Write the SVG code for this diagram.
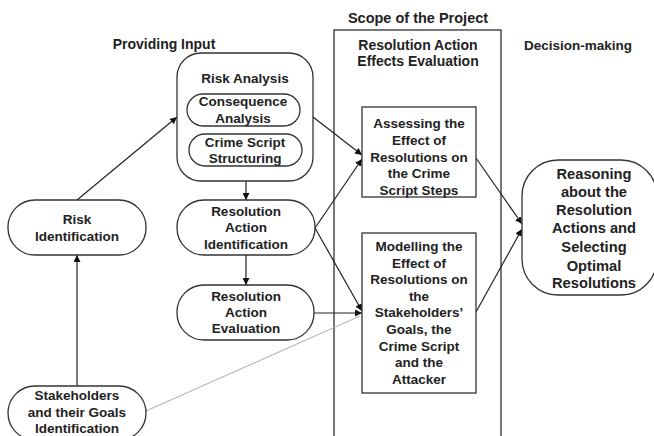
<svg xmlns="http://www.w3.org/2000/svg" width="654" height="436" viewBox="0 0 654 436">
<defs>
<marker id="ah" viewBox="0 0 10 10" refX="10" refY="5" markerWidth="7" markerHeight="7" markerUnits="userSpaceOnUse" orient="auto"><path d="M0,0 L10,5 L0,10 z" fill="#111"/></marker>
<style>
text{font-family:"Liberation Sans",Arial,sans-serif;font-weight:bold;fill:#222;text-anchor:middle}
.n{font-size:13.5px}
.h{font-size:14px}
.box{fill:#fff;stroke:#333;stroke-width:1.3}
.c{fill:none;stroke:#222;stroke-width:1.2}
</style>
</defs>
<rect width="654" height="436" fill="#fff"/>
<g id="scope">
<rect x="334" y="30" width="167" height="412" fill="none" stroke="#555" stroke-width="1.6"/>
<text class="h" x="418" y="23" style="font-size:14.5px">Scope of the Project</text>
<text class="h" x="418" y="50">Resolution Action</text>
<text class="h" x="418" y="66">Effects Evaluation</text>
</g>
<g id="headers">
<text class="h" x="164" y="49">Providing Input</text>
<text class="n" x="578" y="50">Decision-making</text>
</g>
<g id="connectors">
<path class="c" d="M77,200 L177,117" marker-end="url(#ah)"/>
<path class="c" d="M77,386 L77,255" marker-end="url(#ah)"/>
<path class="c" d="M246,181 L246,200" marker-end="url(#ah)"/>
<path class="c" d="M246,255 L246,285" marker-end="url(#ah)"/>
<path class="c" d="M313,117 L362,155" marker-end="url(#ah)"/>
<path class="c" d="M315,228 L362,159" marker-end="url(#ah)"/>
<path class="c" d="M315,228 L362,311" marker-end="url(#ah)"/>
<path class="c" d="M314,313 L362,313" marker-end="url(#ah)"/>
<path d="M146,411 L360,316" fill="none" stroke="#aaa" stroke-width="1"/>
<path class="c" d="M476,158 L522,224" marker-end="url(#ah)"/>
<path class="c" d="M476,312 L522,229" marker-end="url(#ah)"/>
</g>
<g id="risk-analysis">
<rect class="box" x="177" y="53" width="136" height="128" rx="24"/>
<text class="n" x="245" y="83">Risk Analysis</text>
</g>
<g id="consequence-analysis">
<rect class="box" x="187" y="94" width="113" height="32" rx="16"/>
<text class="n" x="243" y="106">Consequence</text>
<text class="n" x="243" y="123">Analysis</text>
</g>
<g id="crime-script-structuring">
<rect class="box" x="189" y="134" width="113" height="32" rx="16"/>
<text class="n" x="245" y="147">Crime Script</text>
<text class="n" x="245" y="163">Structuring</text>
</g>
<g id="risk-identification">
<rect class="box" x="8" y="200" width="138" height="55" rx="27"/>
<text class="n" x="77" y="224">Risk</text>
<text class="n" x="77" y="241">Identification</text>
</g>
<g id="resolution-action-identification">
<rect class="box" x="177" y="200" width="138" height="55" rx="27"/>
<text class="n" x="246" y="216">Resolution</text>
<text class="n" x="246" y="232">Action</text>
<text class="n" x="246" y="249">Identification</text>
</g>
<g id="resolution-action-evaluation">
<rect class="box" x="177" y="285" width="137" height="55" rx="27"/>
<text class="n" x="246" y="301">Resolution</text>
<text class="n" x="246" y="317">Action</text>
<text class="n" x="246" y="333">Evaluation</text>
</g>
<g id="stakeholders">
<rect class="box" x="8" y="386" width="138" height="54" rx="27"/>
<text class="n" x="77" y="400">Stakeholders</text>
<text class="n" x="77" y="417">and their Goals</text>
<text class="n" x="77" y="433">Identification</text>
</g>
<g id="assessing">
<rect class="box" x="362" y="107" width="114" height="90"/>
<text class="n" x="419" y="128">Assessing the</text>
<text class="n" x="419" y="145">Effect of</text>
<text class="n" x="419" y="162">Resolutions on</text>
<text class="n" x="419" y="178">the Crime</text>
<text class="n" x="419" y="195">Script Steps</text>
</g>
<g id="modelling">
<rect class="box" x="362" y="233" width="114" height="160"/>
<text class="n" x="419" y="251">Modelling the</text>
<text class="n" x="419" y="268">Effect of</text>
<text class="n" x="419" y="284">Resolutions on</text>
<text class="n" x="419" y="301">the</text>
<text class="n" x="419" y="317">Stakeholders’</text>
<text class="n" x="419" y="334">Goals, the</text>
<text class="n" x="419" y="351">Crime Script</text>
<text class="n" x="419" y="367">and the</text>
<text class="n" x="419" y="384">Attacker</text>
</g>
<g id="reasoning">
<rect class="box" x="522" y="160" width="135" height="135" rx="36"/>
<text class="n" x="594" y="179" style="font-size:14.7px">Reasoning</text>
<text class="n" x="594" y="197" style="font-size:14.7px">about the</text>
<text class="n" x="594" y="215" style="font-size:14.7px">Resolution</text>
<text class="n" x="594" y="233" style="font-size:14.7px">Actions and</text>
<text class="n" x="594" y="252" style="font-size:14.7px">Selecting</text>
<text class="n" x="594" y="271" style="font-size:14.7px">Optimal</text>
<text class="n" x="594" y="288" style="font-size:14.7px">Resolutions</text>
</g>
</svg>
